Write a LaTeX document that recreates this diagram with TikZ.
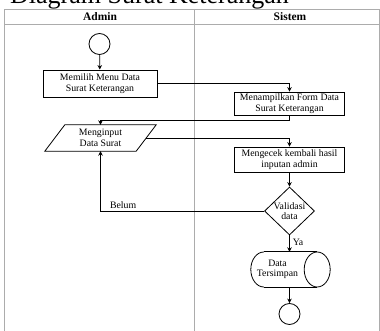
\documentclass[tikz,border=0pt]{standalone}
\usepackage{fontspec}
\setmainfont{Liberation Serif}
\usetikzlibrary{shapes.geometric,arrows.meta,calc}
\begin{document}
\begin{tikzpicture}[x=1pt,y=-1pt,
  box/.style={draw,line width=0.8pt,minimum width=110pt,inner sep=0pt,align=center,font=\fontsize{9.8}{10.5}\selectfont},
  txt/.style={font=\fontsize{9.8}{10.5}\selectfont,align=center,inner sep=0pt},
  arr/.style={-{Stealth[length=4.5pt,width=4.5pt]},line width=0.7pt},
  lane/.style={draw=gray!65,line width=0.9pt},
  shp/.style={line width=0.8pt}]
\useasboundingbox (0,0) rectangle (380,331);
% swimlane frame
\draw[lane] (4,345) -- (4,9) -- (379.5,9) -- (379.5,345);
\draw[lane] (4,24) -- (379.5,24);
\draw[lane] (194,9) -- (194,345);
% title
\node[anchor=base west,inner sep=0pt,font=\fontsize{26}{26}\selectfont] (title) at (10,3.5) {Diagram Surat Keterangan};
% headers
\node[font=\bfseries\fontsize{11.5}{12}\selectfont] (hA) at (100,16.5) {Admin};
\node[font=\bfseries\fontsize{11.5}{12}\selectfont] (hS) at (290,16.5) {Sistem};
% nodes
\node[draw,circle,minimum size=21pt,inner sep=0pt,shp] (start) at (99.5,44) {};
\node[box,minimum width=114pt,minimum height=27pt] (b1) at (100,83.5) {Memilih Menu Data\\Surat Keterangan};
\node[box,minimum height=23pt] (b2) at (289.5,103.5) {Menampilkan Form Data\\Surat Keterangan};
\node[txt,minimum width=91pt,minimum height=26pt] (inp) at (100.5,138) {Menginput\\Data Surat};
\draw[shp] ([xshift=10pt]inp.north west) -- ([xshift=10pt]inp.north east) -- ([xshift=-10pt]inp.south east) -- ([xshift=-10pt]inp.south west) -- cycle;
\node[box,minimum height=25pt] (b3) at (289.5,159.5) {Mengecek kembali hasil\\inputan admin};
\node[draw,diamond,minimum width=50pt,minimum height=48pt,inner sep=0pt,shp] (val) at (289.5,211) {};
\node[txt] (valt) at (val.center) {Validasi\\data};
% cylinder
\node[minimum width=79pt,minimum height=35pt,inner sep=0pt] (db) at (290.5,269.5) {};
\draw[shp] ([xshift=13pt]db.north west) -- ([xshift=-13pt]db.north east)
  ([xshift=13pt]db.south west) -- ([xshift=-13pt]db.south east);
\draw[shp] ([xshift=-13pt]db.east) ellipse [x radius=13pt,y radius=17.5pt];
\begin{scope}
  \clip ([xshift=-2pt,yshift=2pt]db.north west) rectangle ([xshift=13pt,yshift=-2pt]db.south west);
  \draw[shp] ([xshift=13pt]db.west) ellipse [x radius=13pt,y radius=17.5pt];
\end{scope}
\node[txt] (dbt) at (277.5,269.5) {Data\\Tersimpan};
\node[draw,circle,minimum size=21pt,inner sep=0pt,shp] (end) at (289.5,314) {};
% connectors
\draw[arr] (start) -- (b1);
\draw[arr] (b1.east) -| (b2.north);
\draw[arr] (b2.south) -- ++(0,5) -| (inp.north);
\draw[arr] (inp.east) -| (b3.north);
\draw[arr] (b3) -- (val);
\draw[arr] (val.west) -| (inp.south) node[pos=0.431,above,inner sep=2pt,font=\fontsize{9.8}{10.5}\selectfont] (belum) {Belum};
\draw[arr] (val.south) -- (val.south |- db.north) node[pos=0.45,right,inner sep=3pt,font=\fontsize{9.8}{10.5}\selectfont] (ya) {Ya};
\draw[arr] (val.south |- db.south) -- (end);
\end{tikzpicture}
\end{document}
